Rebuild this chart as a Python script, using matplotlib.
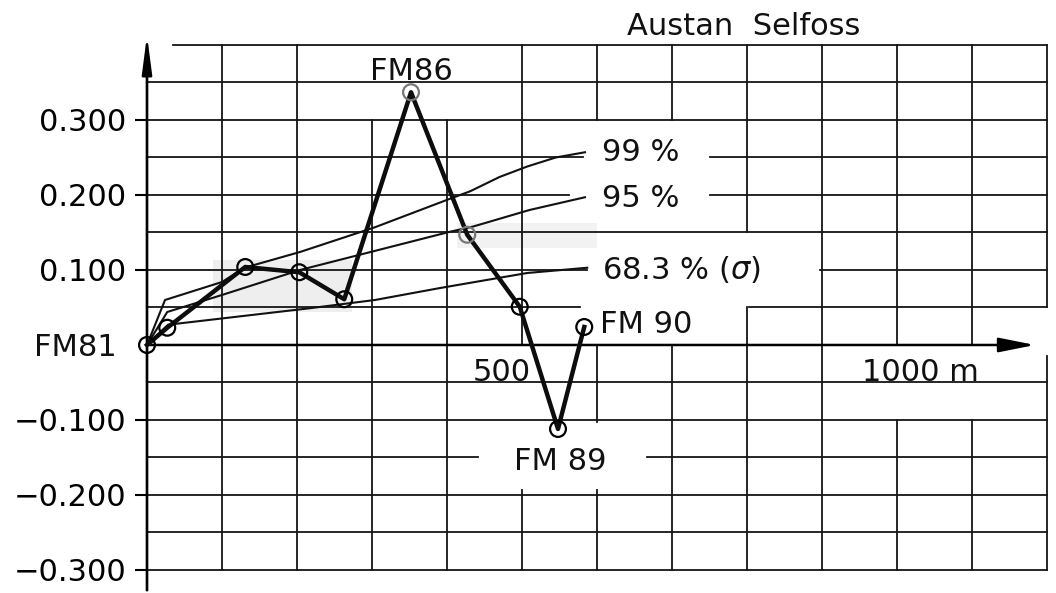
import matplotlib
matplotlib.use("Agg")
import matplotlib.pyplot as plt
import numpy as np
from matplotlib.patches import Rectangle

plt.rcParams['font.family'] = ['DejaVu Sans']

# ---------------- data ----------------
dist_m = [0, 27, 131, 203, 263, 352, 427, 497, 548, 583]
diff = [0.0, 0.023, 0.104, 0.097, 0.061, 0.337, 0.147, 0.051, -0.112, 0.024]
marker_edge = ['black', 'black', 'black', 'black', 'black', '#777777', '#777777', 'black', 'black', 'black']

c99_x = [0, 24, 100, 130, 204, 304, 404, 431, 470, 507, 545, 584]
c99_y = [0, 0.060, 0.084, 0.103, 0.124, 0.157, 0.195, 0.205, 0.224, 0.238, 0.250, 0.257]
c95_x = [0, 27, 101, 204, 404, 435, 510, 584]
c95_y = [0, 0.044, 0.067, 0.100, 0.151, 0.158, 0.180, 0.197]
c68_x = [0, 28, 217, 304, 391, 507, 587]
c68_y = [0, 0.027, 0.049, 0.060, 0.076, 0.096, 0.103]

conf_labels = ['99 %', '95 %', '68.3 % ($\\sigma$)']
station_labels = ['FM81', 'FM86', 'FM 89', 'FM 90']
y_ticks = [-0.3, -0.2, -0.1, 0.1, 0.2, 0.3]
y_tick_labels = ['\u22120.300', '\u22120.200', '\u22120.100', '0.100', '0.200', '0.300']
x_labels = ['500', '1000 m']
title = 'Austan  Selfoss'

# ---------------- figure ----------------
FS = 22
fig = plt.figure(figsize=(10.56, 5.93), dpi=100)
ax = fig.add_axes([0, 0, 1, 1])
ax.set_xlim(-196, 1212)
ax.set_ylim(-0.3307, 0.46)

# light grey smudges of the scan
ax.add_patch(Rectangle((88, 0.044), 185, 0.069, facecolor='#eeeeee', edgecolor='none', zorder=0.5))
ax.add_patch(Rectangle((413, 0.129), 187, 0.034, facecolor='#f2f2f2', edgecolor='none', zorder=0.5))

# grid drawn as segments (with the hand-drafted gaps around lettering)
h_spans = {
    0.40: [(35, 1200)],
    0.35: [(0, 1200)],
    0.30: [(0, 1200)],
    0.25: [(0, 581), (751, 1200)],
    0.20: [(0, 563), (751, 1200)],
    0.15: [(0, 1200)],
    0.10: [(0, 587), (897, 1200)],
    0.05: [(0, 577), (803, 1200)],
    -0.05: [(0, 1200)],
    -0.10: [(0, 1200)],
    -0.15: [(0, 441), (667, 1200)],
    -0.20: [(0, 1200)],
    -0.25: [(0, 1200)],
    -0.30: [(0, 1200)],
}
v_spans = {
    100: [(-0.3, 0.4)],
    200: [(-0.3, 0.4)],
    300: [(-0.3, 0.3)],
    400: [(-0.3, 0.3)],
    500: [(-0.3, -0.193), (0, 0.4)],
    600: [(-0.3, -0.193), (-0.103, 0), (0.3, 0.4)],
    700: [(-0.3, 0), (0.3, 0.4)],
    800: [(-0.3, 0.05), (0.15, 0.4)],
    900: [(-0.3, 0.4)],
    1000: [(-0.3, -0.1), (0, 0.4)],
    1100: [(-0.3, -0.1), (0, 0.4)],
    1200: [(-0.3, -0.015), (0.05, 0.4)],
}
gkw = dict(color='#151515', lw=1.3, zorder=1, solid_capstyle='projecting')
for yv, spans in h_spans.items():
    for a, b in spans:
        ax.plot([a, b], [yv, yv], **gkw)
for xv, spans in v_spans.items():
    for a, b in spans:
        ax.plot([xv, xv], [a, b], **gkw)

# axes with arrows
ax.annotate('', xy=(0, 0.413), xytext=(0, -0.327),
            arrowprops=dict(arrowstyle='-|>,head_length=1.15,head_width=0.15',
                            color='black', lw=1.7, mutation_scale=20,
                            shrinkA=0, shrinkB=0), zorder=2)
ax.annotate('', xy=(1184, 0), xytext=(0, 0),
            arrowprops=dict(arrowstyle='-|>,head_length=1.1,head_width=0.22',
                            color='black', lw=1.8, mutation_scale=20,
                            shrinkA=0, shrinkB=0), zorder=2)

for s in ['top', 'right', 'bottom']:
    ax.spines[s].set_visible(False)
ax.spines['left'].set_position(('data', 0))
ax.spines['left'].set_bounds(-0.327, 0.38)
ax.spines['left'].set_linewidth(1.7)
ax.set_xticks([])
ax.set_yticks(y_ticks)
ax.set_yticklabels(y_tick_labels)
ax.tick_params(axis='y', direction='out', length=9, width=1.5, pad=6, labelsize=FS)

# confidence curves
ckw = dict(color='#111111', lw=1.5, zorder=2)
ax.plot(c99_x, c99_y, **ckw)
ax.plot(c95_x, c95_y, **ckw)
ax.plot(c68_x, c68_y, **ckw)

# profile
ax.plot(dist_m, diff, color='#0d0d0d', lw=3.2, zorder=3, solid_joinstyle='round')
ax.scatter(dist_m, diff, s=130, facecolors='none', edgecolors=marker_edge, linewidths=1.6, zorder=4)

# labels
tkw = dict(fontsize=FS, color='#111111', zorder=5)
ax.text(-40, 0.0, station_labels[0], ha='right', va='center_baseline', **tkw)
ax.text(353, 0.369, station_labels[1], ha='center', va='center_baseline', **tkw)
ax.text(551, -0.151, station_labels[2], ha='center', va='center_baseline', **tkw)
ax.text(604, 0.031, station_labels[3], ha='left', va='center_baseline', **tkw)

ax.text(607, c99_y[-1] + 0.004, conf_labels[0], ha='left', va='center_baseline', **tkw)
ax.text(607, c95_y[-1] + 0.002, conf_labels[1], ha='left', va='center_baseline', **tkw)
ax.text(607, c68_y[-1] + 0.001, conf_labels[2], ha='left', va='center_baseline', **tkw)

ax.text(473, -0.033, x_labels[0], ha='center', va='center_baseline', **tkw)
ax.text(953, -0.033, x_labels[1], ha='left', va='center_baseline', **tkw)
ax.text(640, 0.428, title, ha='left', va='center_baseline', **tkw)

fig.savefig('out.png', dpi=100, facecolor='white')
